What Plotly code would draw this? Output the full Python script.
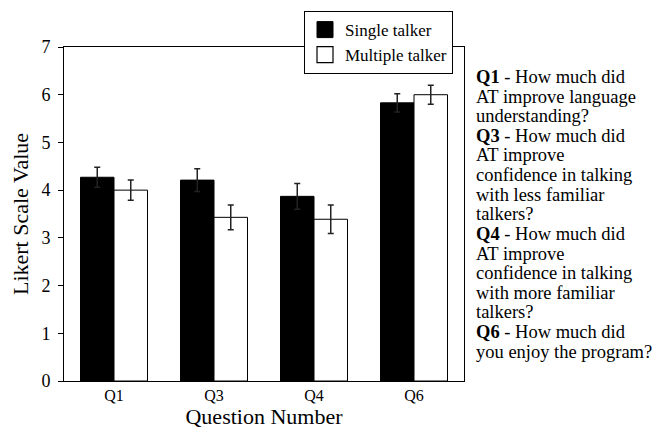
import plotly.graph_objects as go

categories = ["Q1", "Q3", "Q4", "Q6"]
single_vals = [4.27, 4.21, 3.87, 5.83]
single_err = [0.21, 0.24, 0.27, 0.19]
multi_vals = [4.00, 3.43, 3.39, 6.00]
multi_err = [0.21, 0.26, 0.30, 0.20]
y_ticks = [0, 1, 2, 3, 4, 5, 6, 7]

side_lines = [
    "<b>Q1</b> - How much did",
    "AT improve language",
    "understanding?",
    "<b>Q3</b> - How much did",
    "AT improve",
    "confidence in talking",
    "with less familiar",
    "talkers?",
    "<b>Q4</b> - How much did",
    "AT improve",
    "confidence in talking",
    "with more familiar",
    "talkers?",
    "<b>Q6</b> - How much did",
    "you enjoy the program?",
]

FONT = "Liberation Serif, Times New Roman, serif"

# The page body has an 8px margin, so the figure is shifted by 8px.
OFF = 8
W, H = 660 - OFF, 430 - OFF
L, R, T, B = 64 - OFF, 196, 47 - OFF, 48.5
PW = W - L - R
PH = H - T - B


def px_x(px):
    # screen pixel -> paper x
    return (px - OFF - L) / PW


def px_y(py):
    # screen pixel -> paper y
    return (H - B - (py - OFF)) / PH


fig = go.Figure()
fig.add_trace(go.Bar(
    name="Single talker", x=categories, y=single_vals, showlegend=False,
    marker=dict(color="black", line=dict(color="black", width=1)),
    error_y=dict(type="data", array=single_err, color="#222222", thickness=1.5, width=3),
))
fig.add_trace(go.Bar(
    name="Multiple talker", x=categories, y=multi_vals, showlegend=False,
    marker=dict(color="white", line=dict(color="black", width=1)),
    error_y=dict(type="data", array=multi_err, color="#222222", thickness=1.5, width=3),
))
# legend entries with larger square swatches
fig.add_trace(go.Scatter(
    name="Single talker", x=categories, y=[None] * len(categories), mode="markers",
    marker=dict(symbol="square", size=19, color="black", line=dict(color="black", width=1)),
    hoverinfo="skip",
))
fig.add_trace(go.Scatter(
    name="Multiple talker", x=categories, y=[None] * len(categories), mode="markers",
    marker=dict(symbol="square", size=19, color="white", line=dict(color="black", width=1.2)),
    hoverinfo="skip",
))

annotations = []
first_center = 77.0
step = 19.65
for i, line in enumerate(side_lines):
    annotations.append(dict(
        text=line, xref="paper", yref="paper",
        x=px_x(475), y=px_y(first_center + i * step),
        xanchor="left", yanchor="middle", align="left", showarrow=False,
        borderpad=0, font=dict(family=FONT, size=18.5, color="black"),
    ))

fig.update_layout(
    width=W, height=H,
    margin=dict(l=L, r=R, t=T, b=B, autoexpand=False),
    paper_bgcolor="white", plot_bgcolor="white",
    font=dict(family=FONT, color="black", size=17),
    barmode="group", bargap=0.33, bargroupgap=0,
    showlegend=True,
    legend=dict(
        x=px_x(304), y=px_y(11), xanchor="left", yanchor="top",
        bgcolor="white", bordercolor="black", borderwidth=1,
        font=dict(family=FONT, size=17, color="black"),
        tracegroupgap=0, itemwidth=30,
    ),
    xaxis=dict(
        showline=True, linecolor="black", linewidth=1, mirror=True,
        ticks="", tickfont=dict(size=16),
        title=dict(text="Question Number", font=dict(size=22), standoff=0),
    ),
    yaxis=dict(
        range=[0, 7], tickvals=y_ticks, showgrid=False, zeroline=False,
        showline=True, linecolor="black", linewidth=1, mirror=True,
        ticks="outside", ticklen=5, tickcolor="black", tickfont=dict(size=18),
        ticklabelstandoff=4,
        title=dict(text="Likert Scale Value", font=dict(size=22), standoff=8),
    ),
    annotations=annotations,
)

fig.write_html("out.html")
